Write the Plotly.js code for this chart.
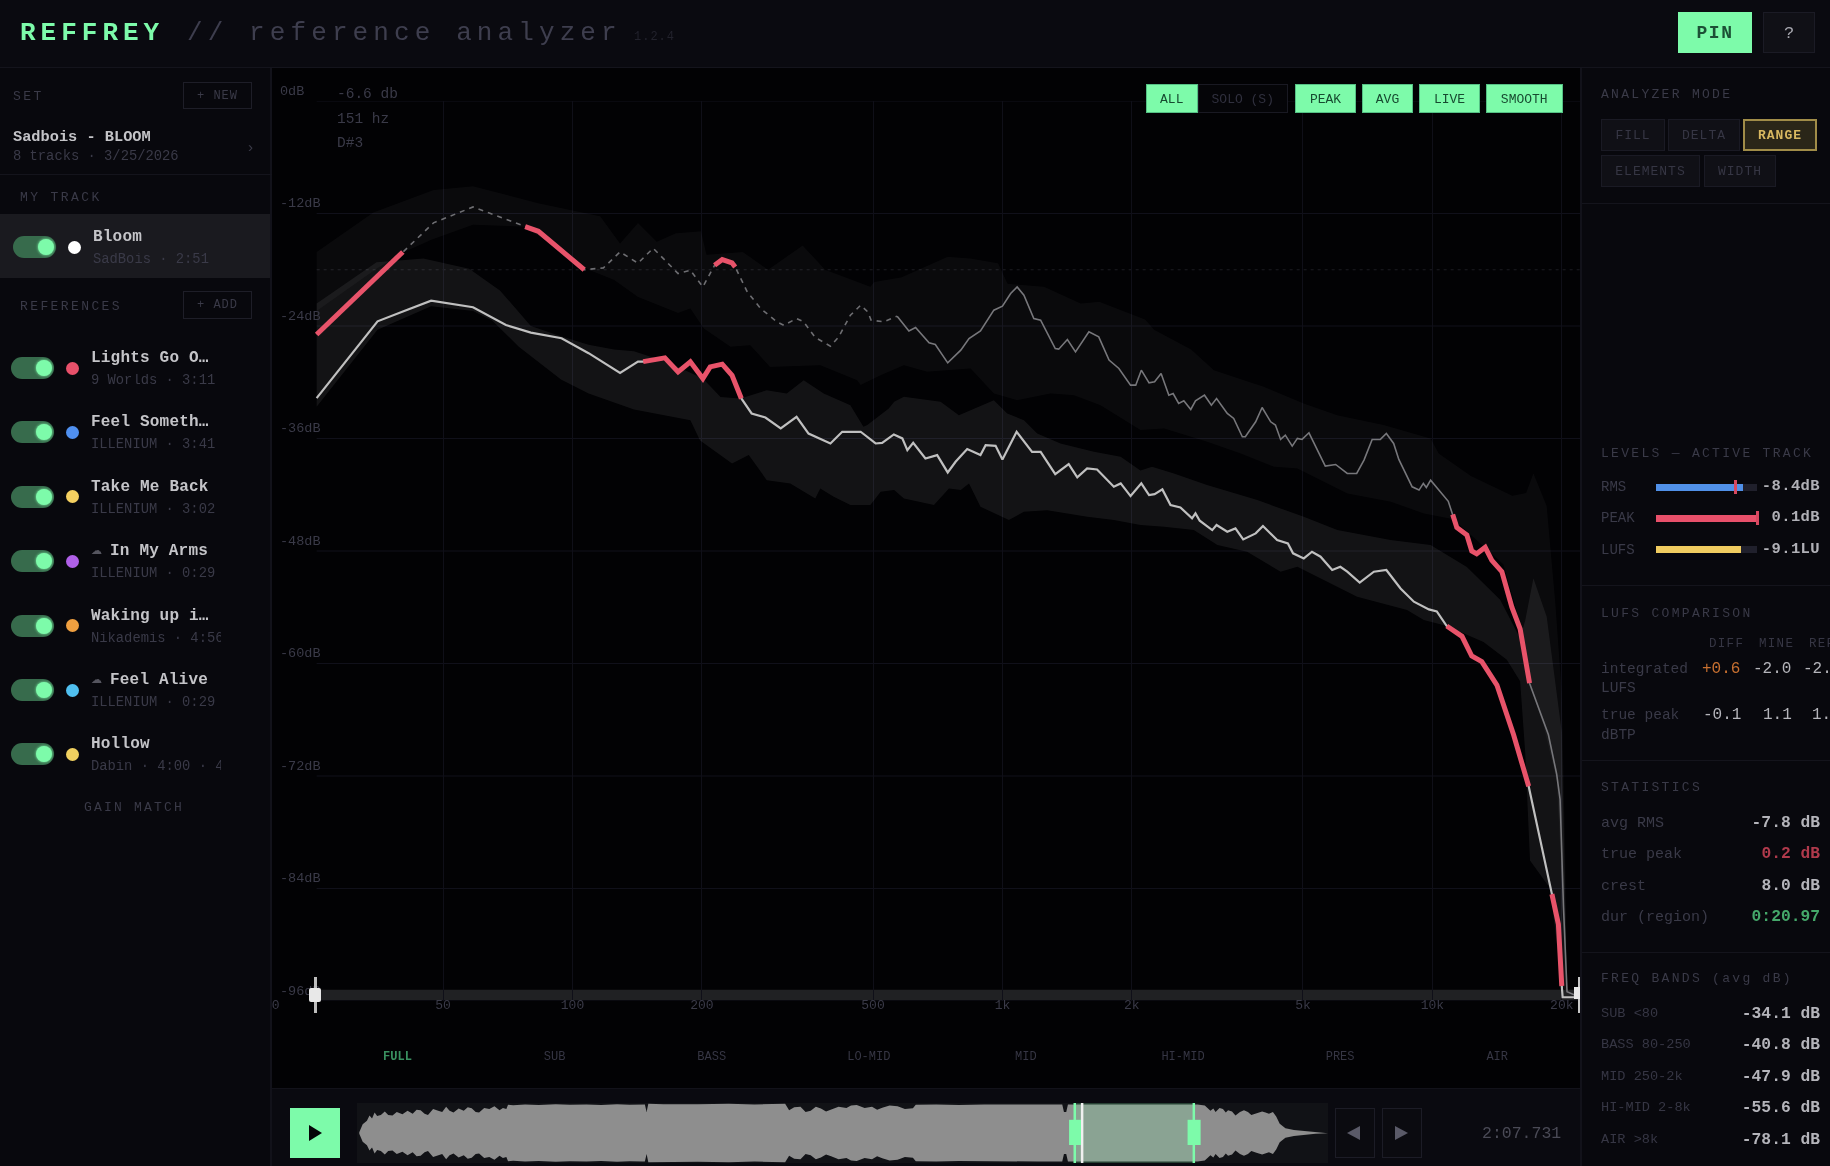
<!DOCTYPE html>
<html><head><meta charset="utf-8">
<script src="https://cdn.plot.ly/plotly-3.0.1.min.js"></script>
<style>
html,body{margin:0;padding:0;background:#08080d;width:1830px;height:1166px;overflow:hidden}
#page{position:absolute;left:0;top:0;width:1830px;height:1166px;overflow:hidden;background:#08080d;filter:blur(0.65px);font-family:"Liberation Mono",monospace}
.b{position:absolute;box-sizing:border-box}
.t{position:absolute;white-space:nowrap;transform:translateY(-50%);line-height:1}
#chart{position:absolute;left:272px;top:68px;width:1308px;height:1020px;overflow:hidden}
#wave{position:absolute;left:357px;top:1103px;width:971px;height:60px;overflow:hidden}
</style></head><body><div id="page"></div>
<script>
// ---------- spectrum data (Hz, dB) ----------
const peakHz=[25.4,40.3,47.5,58.7,69.2,77.6,83.3,106.5,118,129,142,154,176,188,201,214,223,235,239,255,274,299,310,332,345,367,398,416,443,468,486,495,530,569,590,606,628,675,698,746,800,836,889,955,1000,1045,1082,1122,1183,1227,1327,1352,1416,1479,1589,1675,1770,1866,1986,2042,2104,2193,2259,2339,2438,2495,2570,2642,2742,2812,2951,3062,3148,3334,3451,3614,3673,3882,4018,4207,4315,4436,4550,4721,4853,4977,5164,5636,5957,6339,6668,6934,7244,7568,7816,8128,8356,8974,9311,9528,9683,9908,10890,11150,11400,12030,12350,12680,13270,13750,14510,15310,16000,16830,18130,18620,19460,19820,20180,20570,22050];
const peakDb=[-24.9,-16.1,-13,-11.3,-12.5,-13.4,-13.9,-18,-17.8,-16.1,-17.3,-15.7,-18.4,-18.05,-19.83,-17.52,-16.91,-17.27,-17.7,-20.36,-22.14,-23.56,-23.92,-23.2,-23.56,-25.23,-26.15,-25.16,-22.85,-21.78,-22.49,-23.38,-23.56,-22.95,-23.91,-24.52,-24.16,-25.8,-25.97,-27.93,-26.58,-25.33,-24.52,-22.31,-21.89,-20.54,-19.83,-20.71,-23.2,-23.38,-26.4,-26.47,-25.44,-26.76,-24.62,-25.16,-27.64,-28.53,-30.31,-30.31,-28.71,-30.06,-29.95,-29.07,-31.38,-31.2,-32.26,-31.98,-32.9,-31.98,-31.38,-32.44,-31.73,-33.33,-33.86,-35.82,-35.82,-34.22,-32.69,-34.22,-34.57,-36.1,-35.64,-36.81,-35.99,-36.1,-35.39,-38.94,-38.77,-39.73,-39.73,-38.3,-36.1,-36.1,-35.46,-36.53,-38.23,-41.15,-41.5,-40.79,-41.22,-40.44,-42.7,-44.1,-45.5,-46.3,-48,-48.3,-47.6,-49,-50.2,-54,-56.3,-62.1,-66.1,-67.6,-71.8,-74.5,-85.9,-95,-95.6];
const avgHz=[25.4,35.2,40.6,46.9,58.7,70,80,94.3,109,129,142,146,164,176,188,201,209,223,235,247,261,281,305,332,354,398,424,463,468,507,525,559,585,601,620,662,705,746,778,828,889,914,964,1000,1079,1172,1227,1327,1426,1493,1574,1660,1816,1884,1986,2104,2193,2259,2355,2460,2594,2761,2812,2877,3076,3148,3334,3483,3631,3882,4036,4355,4613,4742,5023,5248,5495,5848,6109,6339,6776,7311,7816,8433,9057,9817,10240,10800,11720,12350,13030,14130,15450,16750,18970,19640,20000,20090,22050];
const avgDb=[-31.7,-23.5,-22.4,-21.3,-22,-23.9,-24.7,-25.3,-26.9,-29,-27.8,-27.8,-27.4,-28.9,-27.82,-29.6,-28.36,-28.07,-29.25,-31.73,-33.33,-33.76,-34.93,-33.69,-35.47,-36.53,-35.29,-35.22,-35.28,-36.53,-36.46,-35.57,-35.99,-37.24,-36.46,-38.13,-37.77,-39.62,-38.48,-37.13,-37.77,-36.71,-36.78,-38.23,-35.28,-37.42,-37.42,-39.8,-38.73,-40.15,-39.19,-39.3,-41.15,-40.79,-42.14,-40.79,-42.04,-41.93,-41.43,-43.1,-43.35,-44.52,-43.99,-44.77,-45.77,-45.23,-45.95,-45.59,-46.76,-46.12,-45.34,-46.83,-47.19,-48.25,-48.79,-48.08,-48.61,-50.03,-49.68,-50.21,-51.38,-50.21,-50.03,-51.99,-53.41,-54.23,-54.45,-56,-57.1,-59.2,-59.8,-62.3,-67.6,-73.1,-84.6,-87.8,-94.4,-95.6,-95.6];
const peakOverRanges=[[25.4,40.3],[77.6,106.5],[214,239],[11150,16830]];
const avgOverRanges=[[146,247],[10800,16750],[18970,20000]];
const peakDashedUpTo=569;

const upperTopHz=[25.4,34.4,47.5,58.7,83.3,116,129,142,157,174,199,205,249,285,343,387,493,503,583,746,843,977,1028,1250,1521,1680,2148,2254,2748,3105,4055,5023,6012,7709,9908,10350,12300,15350,16520,17180,18450,19320,20000,20370,20570];
const upperTopDb=[-16.1,-11.9,-9.5,-9.1,-10.9,-12.3,-15.2,-13,-15,-14.1,-13.9,-16.4,-16.1,-18,-15.4,-18,-19.8,-19.3,-18.8,-16.6,-16.8,-17.3,-19.5,-19.8,-21.6,-21.4,-23.3,-24.4,-26.5,-28.71,-30.49,-32.26,-33.51,-34.57,-36,-37.6,-40,-42.1,-41.8,-39.7,-43.2,-53.5,-63.1,-80.2,-95];
const upperBotHz=[25.4,35,40.6,47,58.7,77,100,109,125,142,176,188,202,233,259,288,377,459,468,521,590,668,843,955,1082,1294,1466,1690,2094,2377,2992,3581,4276,4853,6339,7998,9550,11190,14620,16000,16800,18130,19460,20180,20570];
const upperBotDb=[-22.4,-17.9,-16.1,-14.8,-13.2,-13.4,-16.6,-18,-19.1,-20.9,-22.6,-22.14,-24.27,-26.2,-26.05,-28.36,-28.18,-29.78,-30.3,-29.24,-28.18,-28.89,-28.53,-31.2,-31.91,-31.2,-31.38,-32.44,-35.1,-34.93,-36.35,-37.59,-39,-39.19,-41.86,-42.75,-43.99,-44.6,-49.4,-55.7,-62.1,-66.6,-72.5,-86.5,-95];
const lowerTopHz=[25.4,35,45,57.5,67.8,80,94,109,125,139,167,188,201,221,246,283,315,345,384,443,475,485,544,560,590,718,792,955,1026,1122,1205,1365,1633,1884,2094,2228,2506,2992,3917,5023,6012,7998,9908,12030,14380,16000,16440,17180,18450,20000,20370,20570];
const lowerTopDb=[-21.6,-17.2,-16.8,-17.9,-20.2,-24,-25.1,-26,-26.5,-26.7,-27.9,-29,-29.6,-31.56,-31.73,-30.85,-31.2,-29.78,-31.2,-32.44,-34.75,-34.57,-32.8,-32.09,-31.55,-32.09,-33.51,-31.91,-33.33,-34.04,-35.46,-36.53,-37.42,-37.95,-39.4,-39,-39.73,-40.97,-42.57,-44.35,-45.77,-46.83,-47.37,-49.7,-53.2,-57.3,-55.4,-50.9,-55,-67.3,-84,-95];
const lowerBotHz=[25.4,35.2,46.9,58.7,65,75,94,109,139,188,198,235,257,283,321,367,377,405,443,493,521,560,590,693,751,800,836,889,1035,1122,1271,1574,1816,2094,2377,2786,3162,3707,4436,4853,6683,8730,9550,10800,13150,14900,16000,16440,16870,18800,20000];
const lowerBotDb=[-32.6,-24.4,-21.9,-22.4,-23.4,-26.2,-29.7,-31.2,-32.9,-34.04,-36.2,-38.66,-37.77,-40.44,-40.8,-42.4,-41.33,-42.2,-43.1,-43.1,-41.68,-41.5,-42.39,-43.1,-41.33,-41.5,-40.79,-43.28,-44.7,-43.81,-43.64,-44.35,-44.7,-45.23,-45.41,-45.77,-47.37,-48.08,-50.21,-49.68,-52.87,-54.3,-55.36,-56,-57.7,-59.6,-61.9,-69.5,-81,-84,-94.4];

const dbTicks=[0,-12,-24,-36,-48,-60,-72,-84,-96];
const dbTickText=['0dB','-12dB','-24dB','-36dB','-48dB','-60dB','-72dB','-84dB','-96dB'];
const freqTicks=[50,100,200,500,1000,2000,5000,10000,20000];
const freqTickText=['50','100','200','500','1k','2k','5k','10k','20k'];
const firstFreqLabel='20', firstFreq=20;
const refLineDb=-18, sliderHiDb=-94.8, sliderLoDb=-95.9;

// ---------- waveform envelope (seconds, amplitude) ----------
const waveSec=[0.4,1,1.75,2.2,2.65,3.1,3.55,4.2,4.9,5.5,6.25,7,8,8.9,9.8,10.5,11.2,11.9,12.5,13.4,14.3,15,15.7,16.3,17,17.9,18.8,19.5,20.2,20.9,21.5,22.4,23.3,24.2,25.1,25.7,26.3,26.6,27.5,29.6,32,35,37.5,40.4,43,45.8,48,50.3,50.7,51,51.3,54,56.6,60,65.5,70,75.4,76.1,77,78.1,79,79.9,80.8,81.7,82.6,83.5,84.8,86.2,87,88,89.4,90.7,91.6,92.5,93.8,95.2,96.5,97.9,98.4,102,106,110.5,115,120,124.2,124.5,124.9,125.2,130,135,140,148,149.3,150.3,150.8,151.2,151.9,152.5,153,153.4,154.1,154.7,155.5,156.2,156.9,157.5,158.4,159.4,160,160.6,161.3,161.9,162.5,163.5,165,168.8,171];
const waveAmp=[0.03,0.3,0.42,0.6,0.5,0.7,0.58,0.62,0.74,0.62,0.6,0.72,0.64,0.76,0.66,0.8,0.78,0.66,0.62,0.82,0.76,0.72,0.9,0.76,0.7,0.84,0.76,0.88,0.85,0.72,0.7,0.86,0.82,0.92,0.78,0.86,0.82,0.97,0.95,0.98,0.96,0.99,0.97,0.98,0.96,0.99,0.97,0.98,0.98,0.72,1,0.99,1,0.99,1,0.98,1,0.78,0.88,0.9,0.72,0.76,0.9,0.84,0.74,0.8,0.9,0.86,0.94,0.96,0.86,0.9,0.8,0.87,0.94,0.92,0.82,0.85,0.97,0.98,0.96,0.98,0.97,0.98,0.98,0.72,0.72,0.98,0.98,0.97,0.98,0.98,0.94,0.76,0.84,0.72,0.86,0.82,0.7,0.78,0.74,0.6,0.72,0.78,0.72,0.62,0.68,0.74,0.7,0.66,0.72,0.56,0.32,0.16,0.1,0.03,0.01];
const trackSeconds=171, regionStartSec=126.4, regionDurSec=20.97, playheadSec=127.7;

// ---------- UI text ----------
const setName='Sadbois - BLOOM', setInfo='8 tracks · 3/25/2026';
const refNames=['Lights Go O…','Feel Someth…','Take Me Back','In My Arms','Waking up i…','Feel Alive','Hollow'];
const refSubs=['9 Worlds · 3:11','ILLENIUM · 3:41','ILLENIUM · 3:02','ILLENIUM · 0:29','Nikademis · 4:56','ILLENIUM · 0:29','Dabin · 4:00 · 4:00'];
const refColors=['#e8506a','#5090f0','#f5d060','#b060e8','#f0a040','#50c0f0','#f0d060'];
const refCloud=[0,0,0,1,0,1,0];
const bandLabels=['FULL','SUB','BASS','LO-MID','MID','HI-MID','PRES','AIR'];
const statLabels=['avg RMS','true peak','crest','dur (region)'];
const statValues=['-7.8 dB','0.2 dB','8.0 dB','0:20.97'];
const statColors=['#b4b4ba','#b03a4c','#b4b4ba','#45a86a'];
const freqLabels=['SUB <80','BASS 80-250','MID 250-2k','HI-MID 2-8k','AIR >8k'];
const freqValues=['-34.1 dB','-40.8 dB','-47.9 dB','-55.6 dB','-78.1 dB'];

const page=document.getElementById('page');
const GREEN='#7dfbaa',DIM='#3a3a48',FG='#c4c4c8',DIM2='#363644';
function box(x,y,w,h,st){const d=document.createElement('div');d.className='b';
 d.style.cssText=`left:${x}px;top:${y}px;width:${w}px;height:${h}px;`+(st||'');page.appendChild(d);return d;}
function txt(x,y,s,size,color,st){const d=document.createElement('div');d.className='t';d.textContent=s;
 d.style.cssText=`left:${x}px;top:${y}px;font-size:${size}px;color:${color};`+(st||'');page.appendChild(d);return d;}
function txtR(xr,y,s,size,color,st){const d=txt(0,y,s,size,color,st);d.style.left='auto';d.style.right=(1830-xr)+'px';return d;}
function btn(x,y,w,h,s,size,color,st,ts){box(x,y,w,h,st);
 const d=txt(x+w/2,y+h/2,s,size,color,ts||'');d.style.transform='translate(-50%,-50%)';return d;}

// chart background + panels
box(272,68,1308,1020,'background:#020204');
box(0,0,1830,68,'background:#0a0a10;border-bottom:1px solid #14141c');
box(0,68,272,1098,'background:#08080d;border-right:2px solid #12121a');
box(1580,68,250,1098,'background:#08080d;border-left:2px solid #12121a');
box(272,1088,1308,78,'background:#0a0a10;border-top:1px solid #12121a');
const chartDiv=document.createElement('div');chartDiv.id='chart';page.appendChild(chartDiv);

// header
txt(20,33,'REFFREY',26,GREEN,'font-weight:bold;letter-spacing:5px');
txt(187,33,'// reference analyzer',26,'#3e3e4e','letter-spacing:5.1px');
txt(634,37,'1.2.4',12,'#22222c','letter-spacing:1px');
btn(1678,12,74,41,'PIN',18,'#1c5036','background:'+GREEN,'letter-spacing:1.5px;font-weight:bold');
btn(1763,12,52,41,'?',17,'#a8a8b0','background:#101016;border:1px solid #1b1b25;font-weight:bold');

// left panel
txt(13,96,'SET',13,DIM,'letter-spacing:2.5px');
btn(183,82,69,27,'+ NEW',12,DIM,'border:1px solid #1e1e28','letter-spacing:1px');
txt(13,138,setName,15.3,FG,'font-weight:bold');
txt(13,157,setInfo,13.8,DIM);
txt(246,148,'›',15,DIM);
box(0,174,272,1,'background:#14141c');
txt(20,197,'MY TRACK',13,DIM,'letter-spacing:2.4px');
box(0,214,270,64,'background:#1a1a1f');
function track(tx,ty,name,sub,col,cloud){
 box(tx,ty-11,43,22,'background:#376b4c;border-radius:11px');
 box(tx+25,ty-8,16,16,'background:'+GREEN+';border-radius:50%;box-shadow:0 0 3px '+GREEN);
 box(tx+55,ty-6.5,13,13,'background:'+col+';border-radius:50%');
 let nx=tx+80;
 if(cloud){txt(nx,ty-11,'☁',11,'#55555f','font-family:\'DejaVu Sans\'');nx+=19;}
 txt(nx,ty-10,name,16,FG,'font-weight:bold;letter-spacing:.2px');
 txt(tx+80,ty+13,sub,13.8,DIM,'overflow:hidden;width:'+(221-tx-80)+'px');
}
track(13,247,'Bloom','SadBois · 2:51','#ffffff',0);
txt(20,306,'REFERENCES',13,DIM,'letter-spacing:2.4px');
btn(183,291,69,28,'+ ADD',12,DIM,'border:1px solid #1e1e28','letter-spacing:1px');
refNames.forEach((n,i)=>track(11,368+i*64.4,n,refSubs[i],refColors[i],refCloud[i]));
txt(84,807,'GAIN MATCH',13,DIM,'letter-spacing:2.2px');

// chart overlays
[['-6.6 db',94],['151 hz',119],['D#3',143]].forEach(r=>txt(337,r[1],r[0],14.5,DIM));
[[1146,51.5,'ALL',1],[1197.5,90.5,'SOLO (S)',0],[1295,61,'PEAK',1],[1362,51,'AVG',1],[1419,61,'LIVE',1],[1486,76.5,'SMOOTH',1]].forEach(b=>{
 if(b[3])btn(b[0],84,b[1],29,b[2],13,'#174a30','background:'+GREEN+';border:1px solid #55c085');
 else btn(b[0],84,b[1],29,b[2],13,'#30303e','background:#050508;border:1px solid #191922');
});
bandLabels.forEach((l,i)=>{const d=txt(397.5+i*157.1,1057,l,12,i?DIM2:'#3a9060',i?'':'font-weight:bold');d.style.transform='translate(-50%,-50%)';});
// zoom handles
box(314,977,3,36,'background:#bdbdbd');box(309,988,12,14,'background:#e8e8e8;border-radius:2px');
box(1578,977,2,36,'background:#c8c8c8');box(1574,987,6,12,'background:#e8e8e8');

// transport
btn(290,1108,50,50,'',1,'#000','background:'+GREEN);
box(309,1125,0,0,'border-left:13px solid #050508;border-top:8px solid transparent;border-bottom:8px solid transparent');
const waveDiv=document.createElement('div');waveDiv.id='wave';page.appendChild(waveDiv);
box(1335,1108,40,50,'border:1px solid #1c1c26;background:#0b0b10');
box(1347,1126,0,0,'border-right:13px solid #5a5a68;border-top:7px solid transparent;border-bottom:7px solid transparent');
box(1382,1108,40,50,'border:1px solid #1c1c26;background:#0b0b10');
box(1395,1126,0,0,'border-left:13px solid #5a5a68;border-top:7px solid transparent;border-bottom:7px solid transparent');
txt(1482,1134,'2:07.731',16.5,'#4a4a56');

// right panel
const RX=1601,RV=1820;
const sec=(y,s)=>txt(RX,y,s,13,DIM,'letter-spacing:2.3px');
sec(94,'ANALYZER MODE');
const mb='background:#101016;border:1px solid #1a1a24';
btn(1601,119,64,32,'FILL',13,DIM2,mb,'letter-spacing:1px');
btn(1668,119,72,32,'DELTA',13,DIM2,mb,'letter-spacing:1px');
btn(1743,119,74,32,'RANGE',13,'#d8b860','background:#2a2618;border:2px solid #a08c48','font-weight:bold;letter-spacing:1px');
btn(1601,155,99,32,'ELEMENTS',13,DIM2,mb,'letter-spacing:1px');
btn(1704,155,72,32,'WIDTH',13,DIM2,mb,'letter-spacing:1px');
box(1582,203,248,1,'background:#14141c');
sec(453,'LEVELS — ACTIVE TRACK');
[[487,'RMS','-8.4dB','#5090e8',87,79],[518,'PEAK','0.1dB','#e8506a',101,101],[549.5,'LUFS','-9.1LU','#f0cc60',85,null]].forEach(r=>{
 txt(RX,r[0],r[1],14,DIM);
 box(1656,r[0]-3.5,101,7,'background:#20202c');
 box(1656,r[0]-3.5,r[4],7,'background:'+r[3]);
 if(r[5]!==null)box(1656+r[5]-1,r[0]-7,3,14,'background:#d84860');
 txtR(RV,r[0],r[2],15.5,'#b0b0b6','letter-spacing:.4px;font-weight:bold');
});
box(1582,585,248,1,'background:#14141c');
sec(612.5,'LUFS COMPARISON');
[[1709,'DIFF'],[1759,'MINE'],[1809,'REF']].forEach(h=>txt(h[0],643.5,h[1],12.5,DIM2,'letter-spacing:1.3px'));
txt(RX,669,'integrated',14.5,DIM);txt(RX,688,'LUFS',14.5,DIM);
txt(1702,669,'+0.6',16,'#c87030');txt(1753,669,'-2.0',16,'#b4b4ba');txt(1803,669,'-2.6',16,'#b4b4ba');
txt(RX,715,'true peak',14.5,DIM);txt(RX,735,'dBTP',14.5,DIM);
txt(1703,715,'-0.1',16,'#b4b4ba');txt(1763,715,'1.1',16,'#b4b4ba');txt(1812,715,'1.2',16,'#b4b4ba');
box(1582,760,248,1,'background:#14141c');
sec(786.6,'STATISTICS');
statLabels.forEach((l,i)=>{const y=823+i*31.4;txt(RX,y,l,15,DIM);txtR(RV,y,statValues[i],16.3,statColors[i],'font-weight:bold');});
box(1582,952,248,1,'background:#14141c');
sec(978,'FREQ BANDS (avg dB)');
freqLabels.forEach((l,i)=>{const y=1013.5+i*31.5;txt(RX,y,l,13.6,DIM2);txtR(RV,y,freqValues[i],16.3,'#b4b4ba','font-weight:bold');});

// ---------- spectrum traces ----------
function band(tHz,tDb,bHz,bDb,color){return{x:tHz.concat(bHz.slice().reverse()),y:tDb.concat(bDb.slice().reverse()),type:'scatter',mode:'lines',fill:'toself',fillcolor:color,line:{width:0},hoverinfo:'skip'};}
function seg(hz,db,lo,hi,line){const x=[],y=[];hz.forEach((f,i)=>{if(f>=lo&&f<=hi){x.push(f);y.push(db[i]);}});return{x,y,type:'scatter',mode:'lines',line,hoverinfo:'skip'};}
const RED={color:'#e8536a',width:5,shape:'linear'};
const traces=[
 band(upperTopHz,upperTopDb,upperBotHz,upperBotDb,'rgba(255,255,255,0.035)'),
 band(lowerTopHz,lowerTopDb,lowerBotHz,lowerBotDb,'rgba(255,255,255,0.07)'),
 seg(peakHz,peakDb,0,peakDashedUpTo,{color:'#6e6e72',width:1.6,dash:'5px,5px'}),
 seg(peakHz,peakDb,peakDashedUpTo,1e6,{color:'#77777b',width:1.6}),
 seg(avgHz,avgDb,0,1e6,{color:'#c0c0c0',width:2.2}),
 ...peakOverRanges.map(r=>seg(peakHz,peakDb,r[0],r[1],RED)),
 ...avgOverRanges.map(r=>seg(avgHz,avgDb,r[0],r[1],RED))
];
const gridShapes=dbTicks.map(d=>({type:'line',xref:'x',yref:'y',x0:25.4,x1:22050,y0:d,y1:d,line:{color:'#10101a',width:1},layer:'below'}));
gridShapes.push({type:'rect',xref:'x',yref:'y',x0:25.4,x1:22050,y0:sliderHiDb,y1:sliderLoDb,fillcolor:'#202123',line:{width:0},layer:'below'});
gridShapes.push({type:'line',xref:'x',yref:'y',x0:25.4,x1:22050,y0:refLineDb,y1:refLineDb,line:{color:'#1c1c22',width:1,dash:'3px,4px'},layer:'below'});
const tickC='#3a3a48';
const dbAnn=dbTicks.map((d,i)=>({xref:'paper',yref:'y',x:6/1308,y:d,yshift:10,text:dbTickText[i],showarrow:false,xanchor:'left',font:{family:'Liberation Mono',size:13.5,color:tickC}}));
dbAnn.push({xref:'x',yref:'y',x:Math.log10(firstFreq),y:-96,yshift:-4,text:firstFreqLabel,showarrow:false,xanchor:'center',font:{family:'Liberation Mono',size:13,color:tickC}});
Plotly.newPlot(chartDiv,traces,{
 width:1308,height:1020,margin:{l:0,r:0,t:32.7,b:87,pad:0},
 paper_bgcolor:'rgba(0,0,0,0)',plot_bgcolor:'rgba(0,0,0,0)',showlegend:false,
 xaxis:{type:'log',range:[Math.log10(20),Math.log10(22050)],tickmode:'array',tickvals:freqTicks,ticktext:freqTickText,
  showgrid:true,gridcolor:'#0f0f18',gridwidth:1,zeroline:false,showline:false,ticks:'',ticklen:0,ticklabelstandoff:-6,
  tickangle:0,tickfont:{family:'Liberation Mono',size:13,color:tickC},fixedrange:true},
 yaxis:{range:[-96,0],showgrid:false,zeroline:false,showline:false,showticklabels:false,ticks:'',fixedrange:true},
 shapes:gridShapes,annotations:dbAnn,hovermode:false
},{displayModeBar:false,staticPlot:true});

// ---------- waveform ----------
const regionEnd=regionStartSec+regionDurSec;
const gl={color:GREEN,width:2.5};
Plotly.newPlot(waveDiv,[{x:waveSec.concat(waveSec.slice().reverse()),y:waveAmp.concat(waveAmp.slice().reverse().map(a=>-a)),type:'scatter',mode:'lines',fill:'toself',fillcolor:'#8e8e8e',line:{width:0},hoverinfo:'skip'}],{
 width:971,height:60,margin:{l:0,r:0,t:0,b:0},paper_bgcolor:'#111216',plot_bgcolor:'#111216',showlegend:false,
 xaxis:{range:[0,trackSeconds],visible:false,fixedrange:true},yaxis:{range:[-1.03,1.03],visible:false,fixedrange:true},
 shapes:[
  {type:'rect',xref:'x',yref:'paper',x0:regionStartSec,x1:regionEnd,y0:0,y1:1,fillcolor:'rgba(125,251,170,0.2)',line:{width:0}},
  {type:'line',xref:'x',yref:'paper',x0:regionStartSec,x1:regionStartSec,y0:0,y1:1,line:gl},
  {type:'line',xref:'x',yref:'paper',x0:regionEnd,x1:regionEnd,y0:0,y1:1,line:gl},
  {type:'line',xref:'x',yref:'paper',x0:playheadSec,x1:playheadSec,y0:0,y1:1,line:{color:'#f0f0f0',width:2.5}},
  {type:'rect',xref:'x',yref:'paper',x0:regionStartSec-1,x1:regionStartSec+1.1,y0:0.3,y1:0.72,fillcolor:GREEN,line:{width:0}},
  {type:'rect',xref:'x',yref:'paper',x0:regionEnd-1.1,x1:regionEnd+1.2,y0:0.3,y1:0.72,fillcolor:GREEN,line:{width:0}}
 ],hovermode:false
},{displayModeBar:false,staticPlot:true});
</script></body></html>
